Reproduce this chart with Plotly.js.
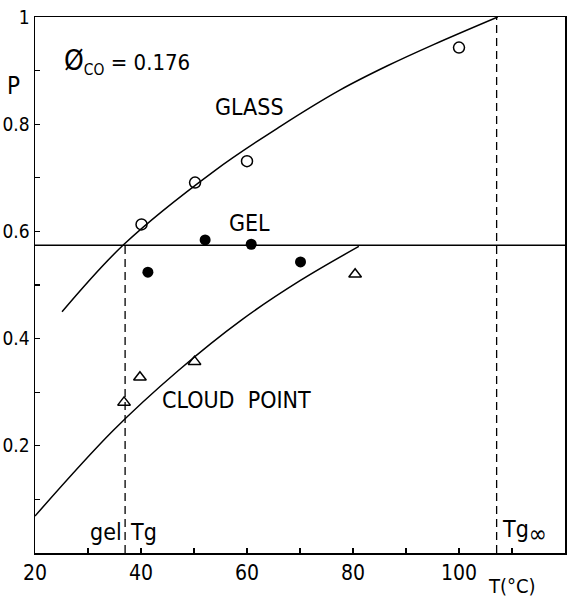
<!DOCTYPE html>
<html>
<head>
<meta charset="utf-8">
<script src="https://cdn.plot.ly/plotly-3.0.1.min.js"></script>
<style>html,body{margin:0;padding:0;background:#fff;}#chart{width:580px;height:601px;}</style>
</head>
<body>
<div id="chart"></div>
<script>
// Data
const glassPtsT = [40.1, 50.2, 60.0, 100.0];
const glassPtsP = [0.613, 0.691, 0.731, 0.943];
const gelPtsT = [41.3, 52.1, 60.8, 70.1];
const gelPtsP = [0.524, 0.584, 0.576, 0.543];
const cloudPtsT = [36.8, 39.8, 50.1, 80.4];
const cloudPtsP = [0.281, 0.328, 0.357, 0.520];
const glassCurveT = [25.1, 36.8, 54.0, 66.3, 77.6, 86.5, 95.3, 107.3];
const glassCurveP = [0.450, 0.576, 0.714, 0.796, 0.864, 0.909, 0.949, 1.0];
const cloudCurveT = [20.0, 34.7, 47.0, 59.0, 70.0, 81.1];
const cloudCurveP = [0.069, 0.228, 0.340, 0.435, 0.508, 0.572];
const gelLineT = [20, 120];
const gelLineP = [0.574, 0.574];
const gelTg = 37.0;
const tgInf = 107.1;
const xTickVals = [30, 40, 50, 60, 70, 80, 90, 100, 110, 120, 20];
const xTickText = ["", "40", "", "60", "", "80", "", "100", "", "120", "20"];
const yTickVals = [0.1, 0.2, 0.3, 0.4, 0.5, 0.6, 0.7, 0.8, 0.9, 1.0];
const yTickText = ["", "0.2", "", "0.4", "", "0.6", "", "0.8", "", "1"];

const FONT = "DejaVu Sans Condensed, Liberation Sans Narrow, DejaVu Sans, sans-serif";
const lineStyle = {color: "#000", width: 1.5};
const dashStyle = {color: "#000", width: 1.3, dash: "8px,5px"};

const traces = [
  {x: glassCurveT, y: glassCurveP, mode: "lines", line: Object.assign({shape: "spline", smoothing: 1}, lineStyle), hoverinfo: "skip"},
  {x: cloudCurveT, y: cloudCurveP, mode: "lines", line: Object.assign({shape: "spline", smoothing: 1}, lineStyle), hoverinfo: "skip"},
  {x: gelLineT, y: gelLineP, mode: "lines", line: lineStyle, hoverinfo: "skip"},
  {x: [gelTg, gelTg], y: [0, gelLineP[0]], mode: "lines", line: dashStyle, hoverinfo: "skip"},
  {x: [tgInf, tgInf], y: [0, 1], mode: "lines", line: dashStyle, hoverinfo: "skip"},
  {x: glassPtsT, y: glassPtsP, mode: "markers", marker: {symbol: "circle-open", size: 11, color: "#000", line: {width: 1.5, color: "#000"}}},
  {x: gelPtsT, y: gelPtsP, mode: "markers", marker: {symbol: "circle", size: 11, color: "#000"}},
  {x: cloudPtsT, y: cloudPtsP, mode: "markers", marker: {symbol: "triangle-up-open", size: 11, color: "#000", line: {width: 1.5, color: "#000"}}}
];

const ann = (x, y, text, extra) => Object.assign({x: x, y: y, xref: "x", yref: "y", text: text, showarrow: false, font: {family: FONT, size: 23, color: "#000"}}, extra || {});

const layout = {
  width: 580, height: 601,
  margin: {l: 35, r: 15, t: 17, b: 48},
  paper_bgcolor: "#fff", plot_bgcolor: "#fff",
  showlegend: false,
  font: {family: FONT, size: 20, color: "#000"},
  xaxis: {
    range: [20, 120], showgrid: false, zeroline: false,
    showline: true, linecolor: "#000", linewidth: 1.5, mirror: true,
    ticks: "inside", ticklen: 5, tickwidth: 1.3, tickcolor: "#000",
    tickmode: "array", tickvals: xTickVals, ticktext: xTickText,
    tickfont: {family: FONT, size: 21, color: "#000"}
  },
  yaxis: {
    range: [0, 1], showgrid: false, zeroline: false,
    showline: true, linecolor: "#000", linewidth: 1.5, mirror: true,
    ticks: "inside", ticklen: 5, tickwidth: 1.3, tickcolor: "#000",
    tickmode: "array", tickvals: yTickVals, ticktext: yTickText,
    tickfont: {family: FONT, size: 19, color: "#000"}
  },
  annotations: [
    ann(60.5, 0.833, "GLASS"),
    ann(60.5, 0.615, "GEL"),
    ann(58.0, 0.285, "CLOUD&nbsp;&nbsp;POINT"),
    ann(gelTg - 0.3, 0.04, "gel", {xanchor: "right"}),
    ann(gelTg + 0.5, 0.04, "Tg", {xanchor: "left"}),
    ann(tgInf + 0.6, 0.04, "Tg<sub><span style='font-size:24px'>∞</span></sub>", {xanchor: "left"}),
    {xref: "paper", yref: "paper", x: -0.025, y: 0.902, text: "P", showarrow: false, xanchor: "right", font: {family: FONT, size: 24, color: "#000"}},
    {xref: "paper", yref: "paper", x: 0.05, y: 0.953, text: "<span style='font-size:28px'>Ø</span><sub>CO</sub> = 0.176", showarrow: false, xanchor: "left", font: {family: FONT, size: 22, color: "#000"}},
    {xref: "paper", yref: "paper", x: 0.851, y: -0.062, text: "T(°C)", showarrow: false, xanchor: "left", yanchor: "middle", font: {family: FONT, size: 20, color: "#000"}}
  ]
};

Plotly.newPlot("chart", traces, layout, {displayModeBar: false, staticPlot: true});
</script>
</body>
</html>
